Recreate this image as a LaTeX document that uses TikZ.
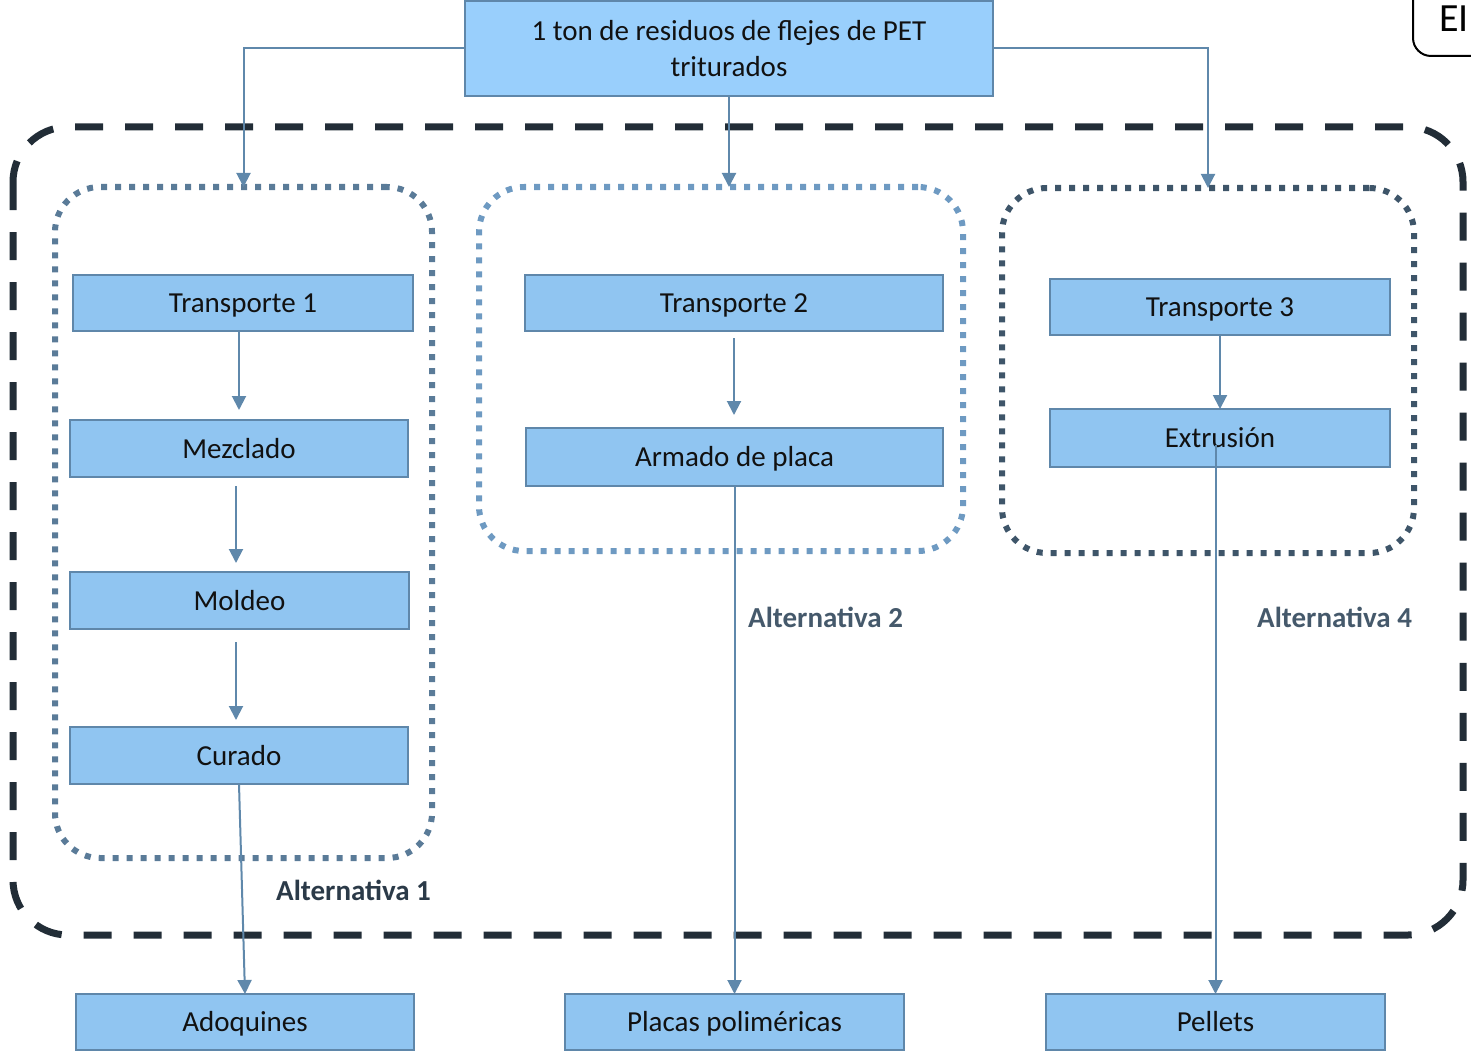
\documentclass[tikz,border=0pt]{standalone}
\usepackage{fontspec}
\setmainfont{Carlito}
\usetikzlibrary{arrows.meta}
\definecolor{boxfill}{HTML}{90C5F1}
\definecolor{topfill}{HTML}{99CFFC}
\definecolor{boxline}{HTML}{5F87AA}
\definecolor{arrcol}{HTML}{5F88AB}
\definecolor{outercol}{HTML}{222D37}
\definecolor{altone}{HTML}{5A7B98}
\definecolor{alttwo}{HTML}{6E9AC2}
\definecolor{altthree}{HTML}{3E5569}
\definecolor{lblone}{HTML}{2B3A48}
\definecolor{lbltwo}{HTML}{45596B}
\definecolor{txtcol}{HTML}{111111}
\begin{document}
\begin{tikzpicture}[x=1pt,y=-1pt,
 boxbase/.style={draw=boxline, fill=boxfill, line width=2.5pt, inner sep=0pt, outer sep=0pt, text=txtcol, font=\fontsize{29pt}{36pt}\selectfont},
 procbox/.style={boxbase, text height=19pt, text depth=0pt},
 altbox/.style={draw=#1, rounded corners=45pt, line width=6pt, dash pattern=on 6pt off 8pt, inner sep=0pt, outer sep=0pt},
 arr/.style={draw=arrcol, line width=2pt, -{Triangle[length=14pt,width=14pt]}},
 altlabel/.style={font=\bfseries\fontsize{29pt}{36pt}\selectfont, inner sep=0pt, anchor=base west}
]
\useasboundingbox (0,0) rectangle (1471,1051);

% outer dashed frame
\draw[outercol, line width=7pt, dash pattern=on 28pt off 22pt, rounded corners=55pt] (13,127) rectangle (1463,935);

% EI box (cut by the page edge)
\begin{scope}
\clip (0,0) rectangle (1471,1051);
\draw[line width=2pt, rounded corners=18pt] (1413,-30) rectangle (1530,56);
\end{scope}
\node[anchor=base west, inner sep=0pt, font=\fontsize{40pt}{48pt}\selectfont] (ei) at (1439,32) {EI};

% alternative groups
\node[altbox=altone, minimum width=377pt, minimum height=671pt] (alt1) at (243.5,522.5) {};
\node[altbox=alttwo, minimum width=484pt, minimum height=364pt] (alt2) at (721,369) {};
\node[altbox=altthree, minimum width=412pt, minimum height=365pt] (alt3) at (1208,370.5) {};

% top box
\node[boxbase, fill=topfill, minimum width=528pt, minimum height=95pt, align=center] (top) at (729,48.5) {1 ton de residuos de flejes de PET\\triturados};

% process boxes
\node[procbox, minimum width=340pt, minimum height=56pt] (t1) at (243,303) {Transporte 1};
\node[procbox, minimum width=338pt, minimum height=57pt] (mez) at (239,448.5) {Mezclado};
\node[procbox, minimum width=339pt, minimum height=57pt] (mol) at (239.5,600.5) {Moldeo};
\node[procbox, minimum width=338pt, minimum height=57pt] (cur) at (239,755.5) {Curado};
\node[procbox, minimum width=418pt, minimum height=56pt] (t2) at (734,303) {Transporte 2};
\node[procbox, minimum width=417pt, minimum height=58pt] (arm) at (734.5,457) {Armado de placa};
\node[procbox, minimum width=340pt, minimum height=56pt] (t3) at (1220,307) {Transporte 3};
\node[procbox, minimum width=340pt, minimum height=58pt] (ext) at (1220,438) {Extrusión};
\node[procbox, minimum width=338pt, minimum height=56pt] (ado) at (245,1022) {Adoquines};
\node[procbox, minimum width=339pt, minimum height=56pt] (pla) at (734.5,1022) {Placas poliméricas};
\node[procbox, minimum width=339pt, minimum height=56pt] (pel) at (1215.5,1022) {Pellets};

% labels
\node[altlabel, text=lblone] (l1) at (276,900) {Alternativa 1};
\node[altlabel, text=lbltwo] (l2) at (748,627) {Alternativa 2};
\node[altlabel, text=lbltwo] (l4) at (1257,627) {Alternativa 4};

% connectors
\draw[arr] (top.west) -| (alt1.north);
\draw[arr] (top.south) -- (top.south |- alt2.north);
\draw[arr] (top.east) -| (alt3.north);

\draw[arr, shorten >=10pt] (t1.south -| mez.north) -- (mez.north);
\draw[arr, shorten <=9pt, shorten >=9pt] ([xshift=-3pt]mez.south) -- ([xshift=-3.5pt]mol.north);
\draw[arr, shorten <=13pt, shorten >=7pt] ([xshift=-3.5pt]mol.south) -- ([xshift=-3pt]cur.north);
\draw[arr, shorten <=7pt, shorten >=13pt] (t2.south) -- (t2.south |- arm.north);
\draw[arr] (t3.south) -- (ext.north);
\draw[arr] (cur.south) -- (ado.north);
\draw[arr] (arm.south) -- (arm.south |- pla.north);
\draw[arr] ([yshift=-7pt]ext.center -| pel.north) -- (pel.north);
\end{tikzpicture}
\end{document}
